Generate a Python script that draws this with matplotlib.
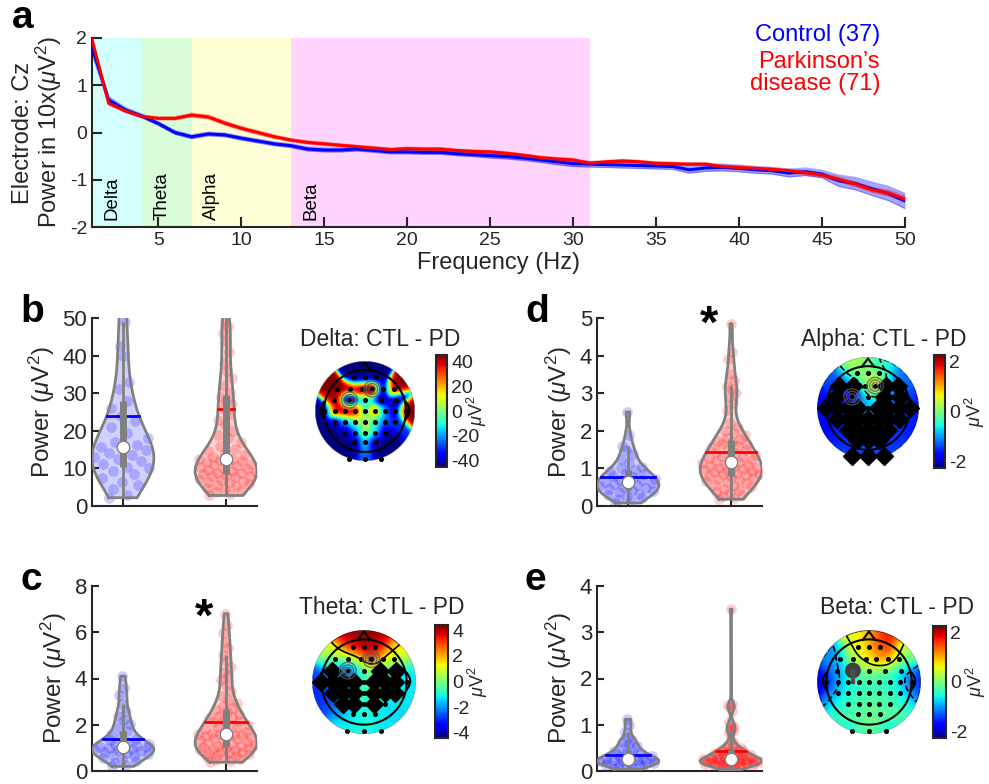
import numpy as np
import matplotlib
matplotlib.use('Agg')
import matplotlib.pyplot as plt

plt.rcParams['font.family'] = ['Liberation Sans', 'DejaVu Sans']
plt.rcParams['mathtext.fontset'] = 'custom'
plt.rcParams['mathtext.rm'] = 'Liberation Sans'
plt.rcParams['mathtext.it'] = 'Liberation Sans:italic'
plt.rcParams['axes.unicode_minus'] = False

TXT = '#262626'
W, H = 989, 784

# ---- spectra at Cz (1..50 Hz) ----
freq = list(range(1, 51))
ctl_mean = [1.80, 0.69, 0.48, 0.35, 0.19, 0.00, -0.09, -0.03, -0.05, -0.12,
            -0.18, -0.24, -0.28, -0.35, -0.37, -0.37, -0.35, -0.38, -0.41, -0.41,
            -0.42, -0.42, -0.45, -0.47, -0.49, -0.51, -0.54, -0.58, -0.62, -0.66,
            -0.67, -0.68, -0.69, -0.70, -0.71, -0.72, -0.79, -0.75, -0.74, -0.76,
            -0.79, -0.81, -0.86, -0.83, -0.88, -1.02, -1.08, -1.19, -1.29, -1.45]
pd_mean = [1.97, 0.62, 0.46, 0.34, 0.30, 0.30, 0.37, 0.33, 0.20, 0.09,
           0.00, -0.09, -0.16, -0.21, -0.24, -0.27, -0.30, -0.33, -0.36, -0.34,
           -0.35, -0.35, -0.38, -0.40, -0.41, -0.44, -0.48, -0.53, -0.56, -0.58,
           -0.65, -0.62, -0.60, -0.62, -0.65, -0.66, -0.67, -0.67, -0.72, -0.74,
           -0.76, -0.78, -0.81, -0.85, -0.90, -0.99, -1.09, -1.21, -1.28, -1.41]
ctl_sem = [0.14, 0.07, 0.05, 0.04, 0.04, 0.04, 0.04, 0.04, 0.04, 0.04,
           0.04, 0.04, 0.04, 0.04, 0.04, 0.04, 0.04, 0.04, 0.04, 0.04,
           0.04, 0.04, 0.04, 0.04, 0.05, 0.05, 0.05, 0.05, 0.06, 0.06,
           0.06, 0.06, 0.06, 0.06, 0.06, 0.06, 0.07, 0.07, 0.07, 0.07,
           0.07, 0.07, 0.08, 0.08, 0.08, 0.12, 0.13, 0.14, 0.15, 0.16]
pd_sem = [0.06, 0.04, 0.03, 0.03, 0.03, 0.03, 0.04, 0.04, 0.04, 0.04,
          0.04, 0.04, 0.03, 0.03, 0.03, 0.03, 0.03, 0.03, 0.03, 0.03,
          0.03, 0.03, 0.03, 0.03, 0.03, 0.03, 0.03, 0.03, 0.03, 0.03,
          0.03, 0.03, 0.03, 0.03, 0.03, 0.03, 0.03, 0.03, 0.03, 0.03,
          0.03, 0.03, 0.04, 0.04, 0.04, 0.05, 0.05, 0.05, 0.06, 0.06]

band_names = ['Delta', 'Theta', 'Alpha', 'Beta']
band_lo = [1, 4, 7, 13]
band_hi = [4, 7, 13, 31]
band_colors = ['#d4ffff', '#d9fcd9', '#ffffd6', '#ffd4ff']

# ---- single-subject band power (uV^2) ----
delta_ctl = [2.2, 3.0, 4.5, 5.5, 6.5, 7.5, 8.5, 9.3, 10.0, 10.5,
             11.2, 12.0, 12.5, 13.0, 13.6, 14.2, 14.8, 15.3, 15.8, 16.3,
             17.0, 18.0, 19.5, 21.0, 22.5, 24.0, 26.0, 28.0, 31.0, 33.0,
             40.0, 42.5, 49.0, 56.0, 64.0, 75.0, 110.0]
delta_pd = [2.8, 3.2, 3.6, 4.0, 4.4, 4.8, 5.2, 5.5, 5.8, 6.1,
            6.4, 6.7, 7.0, 7.3, 7.6, 7.9, 8.1, 8.3, 8.5, 8.7,
            8.9, 9.1, 9.3, 9.5, 9.8, 10.1, 10.4, 10.7, 11.0, 11.3,
            11.5, 11.8, 12.0, 12.2, 12.4, 12.6, 13.0, 13.5, 14.0, 14.6,
            15.2, 16.0, 17.0, 18.0, 19.0, 20.0, 21.5, 23.0, 24.5, 26.0,
            27.0, 28.0, 29.0, 30.0, 32.0, 34.0, 36.0, 38.0, 41.0, 44.0,
            46.0, 48.0, 49.0, 55.0, 62.0, 70.0, 80.0, 90.0, 100.0, 120.0, 230.0]
theta_ctl = [0.20, 0.28, 0.36, 0.44, 0.52, 0.58, 0.64, 0.70, 0.74, 0.78,
             0.82, 0.86, 0.90, 0.93, 0.96, 0.99, 1.02, 1.03, 1.04, 1.08,
             1.12, 1.18, 1.25, 1.32, 1.40, 1.50, 1.62, 1.75, 1.90, 2.05,
             2.2, 2.4, 2.6, 2.9, 3.3, 3.6, 4.1]
theta_pd = [0.38, 0.42, 0.48, 0.53, 0.58, 0.62, 0.66, 0.70, 0.74, 0.77, 0.80,
            0.83, 0.86, 0.89, 0.92, 0.95, 0.98, 1.01, 1.04, 1.07, 1.10,
            1.14, 1.18, 1.22, 1.26, 1.30, 1.34, 1.38, 1.42, 1.46, 1.50,
            1.53, 1.56, 1.58, 1.60, 1.62, 1.65, 1.70, 1.75, 1.80, 1.86,
            1.92, 1.98, 2.04, 2.10, 2.16, 2.22, 2.28, 2.34, 2.40, 2.48,
            2.56, 2.64, 2.72, 2.82, 2.94, 3.08, 3.25, 3.45, 3.70, 3.95,
            4.10, 4.30, 4.50, 4.75, 5.00, 5.30, 5.60, 5.95, 6.30, 6.80]
alpha_ctl = [0.08, 0.12, 0.18, 0.22, 0.26, 0.30, 0.33, 0.36, 0.40, 0.43,
             0.45, 0.47, 0.50, 0.52, 0.55, 0.58, 0.60, 0.62, 0.65, 0.68,
             0.70, 0.73, 0.76, 0.80, 0.84, 0.88, 0.92, 0.96, 1.00, 1.05,
             1.15, 1.25, 1.38, 1.48, 1.60, 1.90, 2.50]
alpha_pd = [0.18, 0.22, 0.26, 0.30, 0.34, 0.38, 0.42, 0.46, 0.50, 0.54,
            0.57, 0.60, 0.63, 0.66, 0.69, 0.72, 0.75, 0.78, 0.80, 0.83,
            0.84, 0.86, 0.88, 0.90, 0.92, 0.94, 0.96, 0.98, 1.00, 1.02,
            1.04, 1.07, 1.10, 1.12, 1.14, 1.18, 1.20, 1.22, 1.25, 1.28,
            1.30, 1.33, 1.36, 1.40, 1.44, 1.48, 1.52, 1.56, 1.60, 1.64,
            1.66, 1.70, 1.74, 1.78, 1.82, 1.88, 1.94, 2.00, 2.10, 2.20,
            2.55, 2.75, 2.90, 3.00, 3.10, 3.20, 3.35, 3.50, 3.90, 4.10, 4.85]
beta_ctl = [0.04, 0.06, 0.08, 0.10, 0.12, 0.14, 0.15, 0.16, 0.17, 0.18,
            0.19, 0.20, 0.21, 0.22, 0.23, 0.24, 0.25, 0.26, 0.27, 0.28,
            0.30, 0.32, 0.34, 0.36, 0.38, 0.40, 0.43, 0.46, 0.50, 0.54,
            0.58, 0.62, 0.66, 0.72, 0.85, 1.00, 1.12]
beta_pd = [0.03, 0.05, 0.06, 0.08, 0.09, 0.10, 0.11, 0.12, 0.13, 0.14,
           0.145, 0.15, 0.155, 0.16, 0.165, 0.17, 0.175, 0.18, 0.185, 0.19,
           0.195, 0.20, 0.205, 0.21, 0.215, 0.22, 0.225, 0.23, 0.235, 0.24,
           0.245, 0.25, 0.255, 0.26, 0.265, 0.27, 0.28, 0.29, 0.30, 0.31,
           0.32, 0.33, 0.34, 0.35, 0.36, 0.37, 0.38, 0.39, 0.40, 0.42,
           0.43, 0.44, 0.45, 0.46, 0.48, 0.50, 0.53, 0.56, 0.60, 0.66,
           0.82, 0.86, 0.90, 0.95, 1.00, 1.05, 1.30, 1.38, 1.42, 1.45, 3.50]

# ---- scalp maps: electrode layout (unit disc) and CTL - PD differences ----
elec_x = [-0.22, 0.0, 0.22,
          -0.56, -0.3, -0.06, 0.14, 0.36, 0.58,
          -0.62, -0.31, 0.0, 0.31, 0.62,
          -0.82, -0.6, -0.4, -0.2, 0.0, 0.2, 0.4, 0.6, 0.82,
          -0.6, -0.4, -0.2, 0.0, 0.2, 0.4, 0.6,
          -0.4, -0.2, 0.0, 0.2, 0.4,
          -0.22, 0.0, 0.22,
          -0.32, 0.0, 0.32]
elec_y = [0.68, 0.68, 0.68,
          0.44, 0.44, 0.44, 0.44, 0.44, 0.44,
          0.22, 0.22, 0.22, 0.22, 0.22,
          0.0, 0.0, 0.0, 0.0, 0.0, 0.0, 0.0, 0.0, 0.0,
          -0.22, -0.22, -0.22, -0.22, -0.22, -0.22, -0.22,
          -0.43, -0.43, -0.43, -0.43, -0.43,
          -0.62, -0.62, -0.62,
          -0.95, -0.95, -0.95]
delta_diff = [-45, -45, -45,
              45, 45, 45, 60, -45, 45,
              40, -60, -15, -45, -45,
              -45, 40, 45, 45, -10, 30, -20, -45, 45,
              -45, -20, -5, 10, -10, -25, -30,
              -45, -25, 5, -10, -45,
              -45, -15, -45,
              -45, -25, -45]
theta_diff = [4.0, 4.5, 4.0,
              1.0, 0.5, 0.8, 4.8, 1.0, 1.5,
              -1.8, -4.8, -1.2, -1.0, -1.5,
              -3.0, -2.5, -1.8, -1.0, -0.3, 0.2, -1.0, -1.5, -1.2,
              -3.0, -1.5, -0.5, -0.3, -1.0, -0.8, -1.3,
              -2.5, -1.2, -0.8, -1.3, -1.5,
              -1.2, -1.0, -1.2,
              -1.2, -1.0, -1.3]
alpha_diff = [0.3, 0.0, -0.6,
              -1.3, -1.0, -0.5, 2.6, -1.0, -1.2,
              -1.6, -2.6, -0.8, -1.0, -1.4,
              -1.8, -1.6, -1.3, -1.0, -0.7, -0.9, -1.2, -1.5, -1.6,
              -1.7, -1.4, -1.0, -0.8, -1.0, -1.3, -1.6,
              -1.6, -1.3, -1.1, -1.2, -1.5,
              -1.5, -1.3, -1.5,
              -1.4, -1.3, -1.4]
beta_diff = [0.6, 0.9, 1.8,
             -1.1, 0.6, 0.5, 1.0, 1.6, 0.2,
             -1.0, -0.4, 0.2, -0.3, -0.8,
             -2.0, -0.9, -0.6, -0.4, -0.35, -0.4, -0.4, -0.7, -1.6,
             -0.8, -0.5, -0.35, -0.25, -0.35, -0.25, -0.6,
             -0.35, -0.25, -0.15, -0.15, -0.25,
             -0.15, 0.0, -0.15,
             -0.6, 0.0, -0.6]
theta_sig = [9, 12, 13, 14, 15, 16, 17, 19, 20, 21, 23, 24, 25, 27, 28, 29, 30, 31, 33]
alpha_sig = [3, 4, 7, 8, 9, 12, 13, 14, 15, 16, 17, 19, 20, 21, 22, 23, 24, 25,
             26, 27, 28, 29, 30, 31, 32, 33, 34, 35, 36, 37, 38, 39, 40]


def px_axes(fig, left, top, right, bottom):
    return fig.add_axes([left / W, 1 - bottom / H, (right - left) / W, (bottom - top) / H])


def style_axes(ax, fs):
    for s in ['top', 'right']:
        ax.spines[s].set_visible(False)
    for s in ['left', 'bottom']:
        ax.spines[s].set_color(TXT)
        ax.spines[s].set_linewidth(1.5)
    ax.tick_params(direction='in', length=5, width=1.5, colors=TXT, labelsize=fs)


def violin(ax, data, pos, color):
    data = np.asarray(data, float)
    n = len(data)
    med = np.median(data)
    sig = np.median(np.abs(data - med)) / 0.6745
    bw = sig * (4 / (3 * n)) ** 0.2
    yy = np.linspace(data.min(), data.max(), 300)
    dens = np.exp(-0.5 * ((yy[:, None] - data[None, :]) / bw) ** 2).sum(1)
    half = dens / dens.max() * 0.3
    # spread points inside the violin
    jit = ((np.arange(n) * 0.618034) % 1) * 2 - 1
    ax.scatter(pos + jit * np.interp(data, yy, half), data, s=60, color=color,
               alpha=0.2, lw=0, zorder=1)
    ax.fill_betweenx(yy, pos - half, pos + half, color=color, alpha=0.18, lw=0, zorder=2)
    ax.plot(np.r_[pos - half, (pos + half)[::-1], pos - half[0]],
            np.r_[yy, yy[::-1], yy[0]], color='0.5', lw=2, zorder=3)
    mean = data.mean()
    mw = np.interp(mean, yy, half)
    ax.plot([pos - mw, pos + mw], [mean, mean], color=color, lw=2, zorder=4)
    q1, q3 = np.percentile(data, [25, 75])
    iqr = q3 - q1
    lo = data[data >= q1 - 1.5 * iqr].min()
    hi = data[data <= q3 + 1.5 * iqr].max()
    ax.plot([pos, pos], [lo, hi], color='0.5', lw=2, zorder=5, solid_capstyle='butt')
    ax.plot([pos, pos], [q1, q3], color='0.5', lw=5, zorder=5, solid_capstyle='butt')
    ax.plot(pos, med, 'o', ms=9, mfc='w', mec='0.5', mew=1, zorder=6)


def violin_panel(fig, box, ctl, pd, ymax, step, letter, star_y=None):
    ax = px_axes(fig, *box)
    violin(ax, ctl, 1, (0, 0, 1))
    violin(ax, pd, 2, (1, 0, 0))
    ax.set_xlim(0.7, 2.3)
    ax.set_ylim(0, ymax)
    ax.set_xticks([1, 2])
    ax.set_xticklabels([])
    ax.set_yticks(np.arange(0, ymax + step / 2, step))
    style_axes(ax, 16)
    ax.set_ylabel(r'Power ($\mu$V$^2$)', fontsize=17.5, color=TXT, labelpad=4)
    if star_y is not None:
        ax.text(1.79, star_y, '*', fontsize=34, fontweight='bold',
                ha='center', va='center', clip_on=False)
    fig.text((box[0] - 72) / W, 1 - (box[1] - 6) / H, letter, fontsize=28,
             fontweight='bold', ha='left', va='center')
    return ax


def topo(fig, cx, cy, R, vals, lim, sigma, levels, sig_idx, title, cbar, ticks,
         rings=True, blob=False):
    ax = px_axes(fig, cx - 1.25 * R, cy - 1.25 * R, cx + 1.25 * R, cy + 1.25 * R)
    ex = np.asarray(elec_x)
    ey = np.asarray(elec_y)
    v = np.asarray(vals, float)
    g = np.linspace(-1, 1, 241)
    X, Y = np.meshgrid(g, g)
    d2 = (X[..., None] - ex) ** 2 + (Y[..., None] - ey) ** 2
    w = np.exp(-(d2 - d2.min(-1, keepdims=True)) / (2 * sigma ** 2))
    Z = (w * v).sum(-1) / w.sum(-1)
    Z[X ** 2 + Y ** 2 > 1] = np.nan
    im = ax.imshow(Z, extent=(-1, 1, -1, 1), origin='lower', cmap='jet',
                   vmin=-lim, vmax=lim, interpolation='bilinear', zorder=1)
    if levels:
        Zc = np.where(np.isnan(Z), 0, Z)
        cs = ax.contour(X, Y, Zc, levels=levels, colors='k', linewidths=1.2, zorder=2)
        clip = plt.Circle((0, 0), 0.99, transform=ax.transData)
        cs.set_clip_path(clip)
    # head outline, nose and ears
    t = np.linspace(0, 2 * np.pi, 200)
    ax.plot(0.82 * np.cos(t), 0.82 * np.sin(t), color='k', lw=1.5, zorder=3)
    ax.plot([-0.12, 0, 0.12], [0.81, 0.97, 0.81], color='k', lw=1.5, zorder=3)
    ty = np.linspace(-0.15, 0.18, 30)
    ear = 0.82 + 0.07 * np.sin(np.pi * (ty + 0.15) / 0.33)
    ax.plot(ear, ty, color='k', lw=1.5, zorder=3)
    ax.plot(-ear, ty, color='k', lw=1.5, zorder=3)
    ax.plot(ex, ey, 'o', ms=2.6, color='k', zorder=4)
    if sig_idx:
        ax.plot(ex[sig_idx], ey[sig_idx], 'D', ms=9, color='k', zorder=5)
    if rings:
        for k in (10, 6):
            for r in (0.06, 0.11, 0.16):
                ax.add_patch(plt.Circle((ex[k], ey[k]), r, fill=False, ec='0.35',
                                        lw=1, alpha=0.8, zorder=6))
    if blob:
        ax.add_patch(plt.Circle((ex[10], ey[10]), 0.14, color='0.25', zorder=6))
        ax.plot([ex[10], ex[10]], [ey[10], ey[10] - 0.22], color='0.3', lw=3, zorder=6)
    ax.set_xlim(-1.25, 1.25)
    ax.set_ylim(-1.25, 1.25)
    ax.set_aspect('equal')
    ax.axis('off')
    fig.text(title[1] / W, 1 - title[2] / H, title[0], fontsize=16.5, color=TXT,
             ha='center', va='center')
    cax = px_axes(fig, *cbar)
    cb = fig.colorbar(im, cax=cax, ticks=ticks)
    cb.outline.set_edgecolor(TXT)
    cb.outline.set_linewidth(1.5)
    cax.tick_params(labelsize=14, colors=TXT, length=0, pad=3)
    fig.text((cbar[2] + 30) / W, 1 - ((cbar[1] + cbar[3]) / 2) / H, r'$\mu$V$^2$',
             rotation=90, fontsize=13, color=TXT, ha='center', va='center')


fig = plt.figure(figsize=(W / 100, H / 100), dpi=100)

# ---- panel a: power spectra ----
ax = px_axes(fig, 92, 38, 905, 227)
for name, lo, hi, col in zip(band_names, band_lo, band_hi, band_colors):
    ax.axvspan(lo, hi, color=col, lw=0, zorder=0)
    ax.text(lo + 1.2, -1.85, name, rotation=90, fontsize=13.5, ha='center', va='bottom')
f = np.asarray(freq)
for m, s, col, a in [(ctl_mean, ctl_sem, 'b', 0.35), (pd_mean, pd_sem, 'r', 0.35)]:
    m = np.asarray(m)
    s = np.asarray(s)
    ax.fill_between(f, m - s, m + s, color=col, alpha=a, lw=0, zorder=2)
    ax.plot(f, m - s, color=col, alpha=0.3, lw=1, zorder=2)
    ax.plot(f, m + s, color=col, alpha=0.3, lw=1, zorder=2)
    ax.plot(f, m, color=col, lw=2.2, zorder=3)
ax.set_xlim(1, 50)
ax.set_ylim(-2, 2)
ax.set_xticks([5, 10, 15, 20, 25, 30, 35, 40, 45, 50])
ax.set_yticks([-2, -1, 0, 1, 2])
style_axes(ax, 14)
ax.tick_params(length=7)
ax.set_xlabel('Frequency (Hz)', fontsize=17, color=TXT, labelpad=2)
ax.set_ylabel('Electrode: Cz\n' + r'Power in 10x($\mu$V$^2$)', fontsize=17,
              color=TXT, labelpad=4, linespacing=1.0)
fig.text(880 / W, 1 - 35 / H, 'Control (37)', color='b', fontsize=17,
         ha='right', va='center')
fig.text(880 / W, 1 - 73 / H, 'Parkinson\u2019s\ndisease (71)', color='r',
         fontsize=17, ha='right', va='center', linespacing=1.05)
fig.text(12 / W, 1 - 18 / H, 'a', fontsize=28, fontweight='bold', ha='left', va='center')

# ---- panels b-e: band power violins and scalp differences ----
violin_panel(fig, (92, 318, 257, 506), delta_ctl, delta_pd, 50, 10, 'b')
violin_panel(fig, (92, 586, 257, 771), theta_ctl, theta_pd, 8, 2, 'c', star_y=6.6)
violin_panel(fig, (597, 318, 762, 506), alpha_ctl, alpha_pd, 5, 1, 'd', star_y=4.79)
violin_panel(fig, (597, 586, 762, 771), beta_ctl, beta_pd, 4, 1, 'e')

topo(fig, 365, 411, 50, delta_diff, 45, 0.1, None, None,
     ('Delta: CTL - PD', 380, 339), (436, 355, 447, 467), [-40, -20, 0, 20, 40])
topo(fig, 364, 682, 52, theta_diff, 4.4, 0.16, [1.5], theta_sig,
     ('Theta: CTL - PD', 382, 608), (435, 625, 448, 738), [-4, -2, 0, 2, 4])
topo(fig, 868, 408, 51, alpha_diff, 2.25, 0.16, [-0.4], alpha_sig,
     ('Alpha: CTL - PD', 884, 339), (934, 355, 945, 468), [-2, 0, 2])
topo(fig, 869, 682, 52, beta_diff, 2.25, 0.16, [-0.9, 0.5], None,
     ('Beta: CTL - PD', 897, 608), (933, 626, 946, 738), [-2, 0, 2],
     rings=False, blob=True)

fig.savefig('out.png', dpi=100)
